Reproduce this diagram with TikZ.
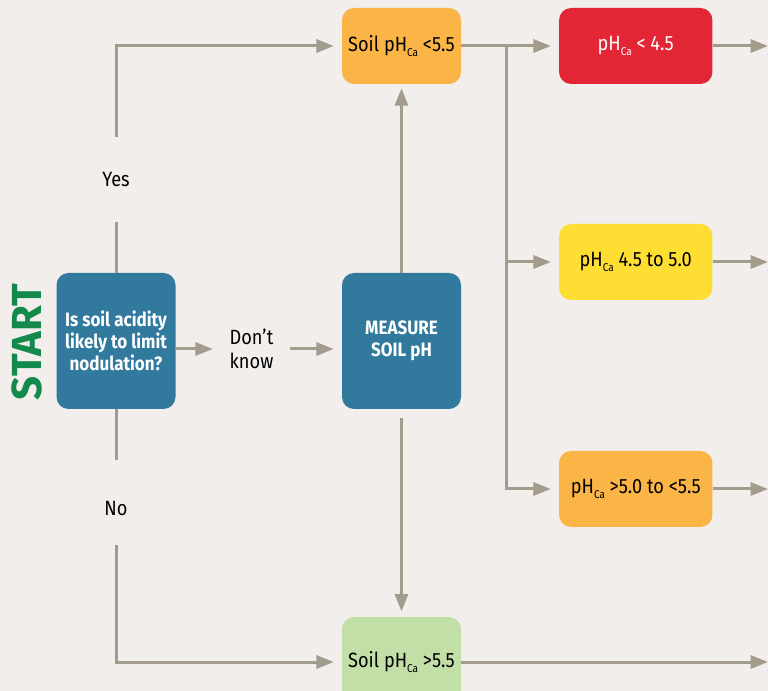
\documentclass[tikz,border=0pt]{standalone}
\usepackage{fontspec}
\setmainfont{Fira Sans}[FakeStretch=0.88]
\newfontfamily\startfont{Fira Sans Bold}
\usetikzlibrary{arrows.meta,positioning}

\definecolor{bgcol}{HTML}{F1EEEB}
\definecolor{linecol}{HTML}{A39B8B}
\definecolor{askblue}{HTML}{317A9E}
\definecolor{startgreen}{HTML}{138A4C}
\definecolor{phorange}{HTML}{FBB546}
\definecolor{phred}{HTML}{E32636}
\definecolor{phyellow}{HTML}{FFDE33}
\definecolor{phgreen}{HTML}{C3DFA8}

\newcommand\phca{pH\raisebox{-4pt}{\fontsize{8.5}{9}\selectfont Ca}}

\tikzset{
  flowline/.style={line width=2.25pt, draw=linecol},
  flowarrow/.style={flowline, -{Triangle[length=13pt,width=9.75pt]}, shorten >=6pt},
  askbox/.style={fill=askblue, text=white, rounded corners=9pt, align=center,
    minimum width=89.25pt, minimum height=102pt, inner sep=2pt,
    font=\bfseries\fontsize{14.5}{16.5}\selectfont},
  stepbox/.style={rounded corners=9pt, align=center, minimum width=89.25pt,
    minimum height=57pt, inner sep=2pt, font=\fontsize{15.5}{18}\selectfont},
  widebox/.style={stepbox, minimum width=115pt},
  gaplabel/.style={inner sep=0pt, align=center, font=\fontsize{15.5}{18}\selectfont},
}

\begin{document}
\begin{tikzpicture}[x=0.75pt, y=-0.75pt]
  \clip (0,0) rectangle (768,691);
  \fill[bgcol] (0,0) rectangle (768,691);

  % left column
  \node[rotate=90, text=startgreen, inner sep=0pt,
    font=\startfont\fontsize{31.5}{32}\selectfont] (start) at (27,342) {START};
  \node[askbox] (ask) at (116,341) {Is soil acidity\\likely to limit\\nodulation?};
  \node[gaplabel, minimum height=63.75pt] (yes) at (116,179.5) {Yes};
  \node[gaplabel, minimum height=63.75pt] (no) at (116,502.5) {\raisebox{-9.5pt}[0pt][0pt]{No}};
  \node[gaplabel, minimum width=57.75pt] (dunno) at (251.5,349) {Don’t\\know};

  % middle column
  \node[askbox] (measure) at (401.5,341) {MEASURE\\SOIL pH};
  \node[stepbox, fill=phorange] (acid) at (401.5,46) {Soil \phca{} <5.5};
  \node[stepbox, fill=phgreen, minimum height=67.5pt] (alk) at (401.5,662) {Soil \phca{} >5.5};

  % right column
  \node[widebox, fill=phred, text=white] (low) at (635.75,46) {\phca{} < 4.5};
  \node[widebox, fill=phyellow] (mid) at (635.75,262) {\phca{} 4.5 to 5.0};
  \node[widebox, fill=phorange] (high) at (635.75,489) {\phca{} >5.0 to <5.5};

  \coordinate (split) at (506,46);
  \coordinate (out1) at (768,46);
  \coordinate (out2) at (768,262);
  \coordinate (out3) at (768,489);
  \coordinate (out4) at (768,662);

  % connectors
  \draw[flowline] (ask.north) -- (yes.south);
  \draw[flowarrow] (yes.north) |- (acid.west);
  \draw[flowline] (ask.south) -- (no.north);
  \draw[flowarrow] (no.south) |- (alk.west);
  \draw[flowarrow, shorten >=0pt] (ask.east |- dunno.west) -- (dunno.west);
  \draw[flowarrow] (dunno.east) -- (measure.west |- dunno.east);
  \draw[flowarrow, shorten >=3pt] (measure.north) -- (acid.south);
  \draw[flowarrow, shorten <=6.75pt, shorten >=4pt] (measure.south) -- (alk.north);

  \draw[flowarrow] (acid.east) -- (low.west);
  \draw[flowarrow] (split) |- (mid.west);
  \draw[flowarrow] (split) |- (high.west);

  \draw[flowarrow, shorten >=0pt] (low.east) -- (out1);
  \draw[flowarrow, shorten >=0pt] (mid.east) -- (out2);
  \draw[flowarrow, shorten >=0pt] (high.east) -- (out3);
  \draw[flowarrow, shorten >=0pt] (alk.east) -- (out4);
\end{tikzpicture}
\end{document}
